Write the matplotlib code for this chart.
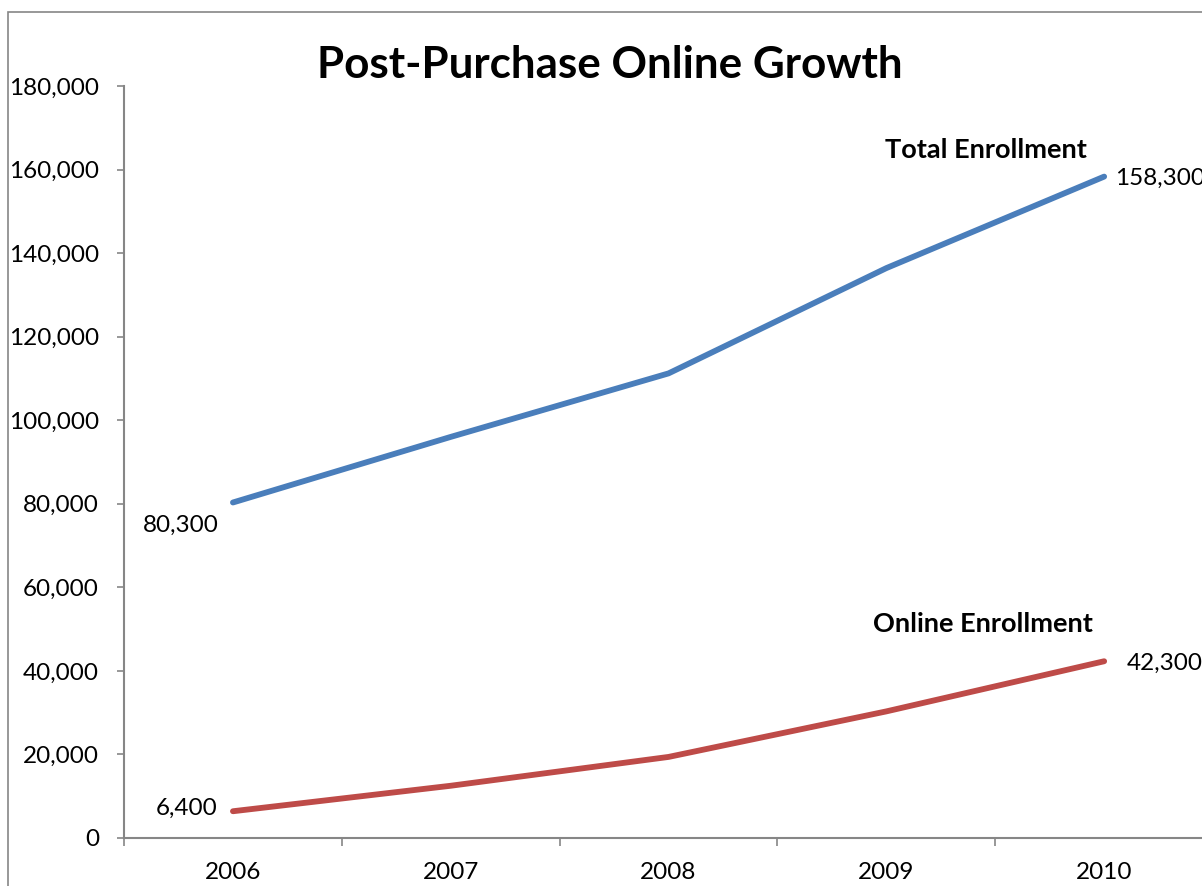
import numpy as np
import matplotlib.pyplot as plt
from matplotlib.patches import Rectangle

plt.rcParams['font.family'] = ['Lato', 'DejaVu Sans']

# data
years = ['2006', '2007', '2008', '2009', '2010']
total_enrollment = [80300, 96000, 111200, 136400, 158300]
online_enrollment = [6400, 12500, 19400, 30300, 42300]
y_ticks = [0, 20000, 40000, 60000, 80000, 100000, 120000, 140000, 160000, 180000]

blue = '#4A7EBB'
red = '#BE4B48'
axis_gray = '#868686'

fig = plt.figure(figsize=(12.02, 8.86), dpi=100)
ax = fig.add_axes([0.1032, 0.0542, 0.906, 0.8488])

x = np.arange(len(years))
ax.plot(x, total_enrollment, color=blue, lw=4.2, solid_capstyle='round', clip_on=False)
ax.plot(x, online_enrollment, color=red, lw=4.2, solid_capstyle='round', clip_on=False)

ax.set_xlim(-0.5, len(years) - 0.5)
ax.set_ylim(0, 180000)
ax.set_yticks(y_ticks)
ax.set_yticklabels([f'{v:,}' for v in y_ticks])
ax.set_xticks(x)
ax.set_xticklabels(years)
ax.set_xticks(np.arange(len(years) + 1) - 0.5, minor=True)

ax.tick_params(axis='y', length=5, width=1.2, color=axis_gray, pad=13, labelsize=17.5)
ax.tick_params(axis='x', which='major', length=0, pad=17, labelsize=17.5)
ax.tick_params(axis='x', which='minor', length=6, width=1.2, color=axis_gray)

for side in ['top', 'right']:
    ax.spines[side].set_visible(False)
for side in ['left', 'bottom']:
    ax.spines[side].set_color(axis_gray)
    ax.spines[side].set_linewidth(1.5)

# data labels at first and last points
ax.annotate(f'{total_enrollment[0]:,}', (x[0], total_enrollment[0]), xytext=(-10, -16.5),
            textcoords='offset points', ha='right', va='center', fontsize=17.5)
ax.annotate(f'{online_enrollment[0]:,}', (x[0], online_enrollment[0]), xytext=(-11, 2),
            textcoords='offset points', ha='right', va='center', fontsize=17.5)
ax.annotate(f'{total_enrollment[-1]:,}', (x[-1], total_enrollment[-1]), xytext=(8, -1),
            textcoords='offset points', ha='left', va='center', fontsize=17.5, annotation_clip=False)
ax.annotate(f'{online_enrollment[-1]:,}', (x[-1], online_enrollment[-1]), xytext=(16, -1.5),
            textcoords='offset points', ha='left', va='center', fontsize=17.5, annotation_clip=False)

# series names
ax.annotate('Total Enrollment', (x[-1], total_enrollment[-1]), xytext=(-85, 19),
            textcoords='offset points', ha='center', va='center', fontsize=19.5, fontweight='bold')
ax.annotate('Online Enrollment', (x[-1], online_enrollment[-1]), xytext=(-87, 27),
            textcoords='offset points', ha='center', va='center', fontsize=19.5, fontweight='bold')

fig.text(610 / 1202, 1 - 65 / 886, 'Post-Purchase Online Growth', ha='center', va='center',
         fontsize=31.7, fontweight='bold')

# chart area border (cropped at right and bottom)
fig.add_artist(Rectangle((8 / 1202, -0.1), 1.2, 1 - 12 / 886 + 0.1, transform=fig.transFigure,
                         fill=False, edgecolor=axis_gray, lw=1.2))

fig.savefig('out.png', dpi=100)
